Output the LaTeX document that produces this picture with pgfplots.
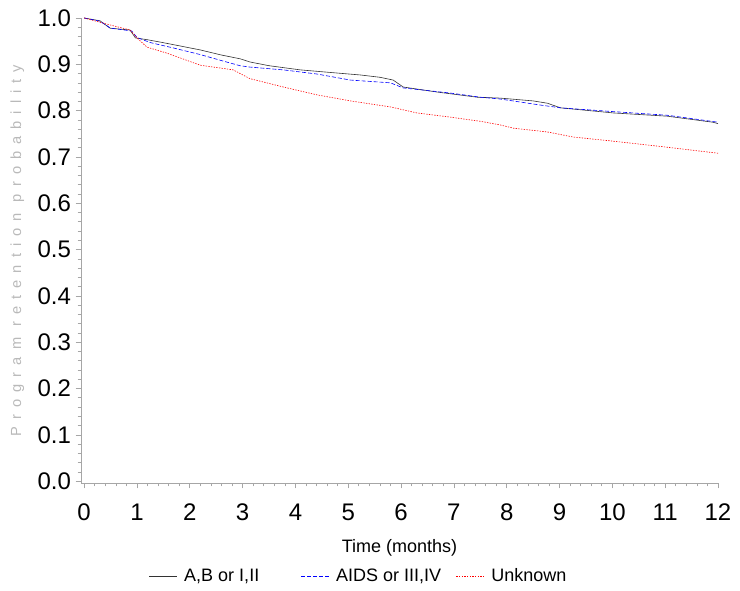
\documentclass[border=0pt]{standalone}
\usepackage{fontspec}
\setmainfont{Liberation Sans}
\newfontfamily\ylabfont[LetterSpace=48]{Liberation Sans}
\usepackage{pgfplots}
\pgfplotsset{compat=1.18}

% retention curves
\pgfplotstableread{
t p
0 1.000
0.30 0.994
0.49 0.978
0.87 0.974
0.97 0.957
1.20 0.953
1.44 0.948
1.80 0.940
2.20 0.931
2.60 0.920
2.95 0.912
3.14 0.905
3.50 0.897
4.09 0.888
4.60 0.883
5.23 0.877
5.60 0.872
5.85 0.866
6.04 0.851
6.69 0.840
7.44 0.829
7.88 0.827
8.50 0.821
8.77 0.816
9.02 0.806
10.02 0.795
11.04 0.788
11.90 0.775
12.00 0.772
}\ABtab

\pgfplotstableread{
t p
0 1.000
0.30 0.993
0.50 0.978
0.90 0.972
1.00 0.958
1.25 0.947
1.70 0.935
2.20 0.921
2.60 0.908
2.95 0.897
3.14 0.894
3.77 0.888
4.41 0.879
5.04 0.866
5.80 0.860
6.04 0.849
6.93 0.838
7.50 0.829
7.88 0.825
8.64 0.812
9.02 0.806
10.00 0.798
11.04 0.790
12.00 0.775
}\AIDStab

\pgfplotstableread{
t p
0 1.000
0.49 0.985
0.87 0.974
1.00 0.957
1.19 0.937
1.57 0.924
2.20 0.898
2.82 0.888
3.14 0.869
3.77 0.851
4.41 0.834
5.04 0.821
5.80 0.808
6.30 0.795
6.93 0.786
7.50 0.777
7.88 0.769
8.13 0.762
8.77 0.754
9.26 0.743
10.02 0.734
11.04 0.721
12.00 0.708
}\UNKtab

\begin{document}
\begin{tikzpicture}
% fix the page to the reference's 740x590 px (1px = 0.75pt)
\path[use as bounding box] (-60.75pt,-80.25pt) rectangle (494.25pt,362.25pt);
\begin{axis}[
    scale only axis,
    width=477.75pt, height=348.75pt,
    xmin=-0.06, xmax=12, ymin=-0.004, ymax=1.0,
    axis x line=bottom, axis y line=left,
    axis line style={-, gray!70, line width=0.6pt},
    xtick={0,1,...,12}, minor x tick num=4,
    ytick={0,0.1,...,1.0}, minor y tick num=4,
    tick align=outside,
    major tick length=4pt, minor tick length=2.5pt,
    tick style={gray!70, line width=0.5pt},
    /pgf/number format/assume math mode=true,
    yticklabel style={/pgf/number format/fixed, /pgf/number format/fixed zerofill,
        /pgf/number format/precision=1, font=\fontsize{18}{20}\selectfont},
    xticklabel style={font=\fontsize{18}{20}\selectfont, yshift=-8pt},
    xlabel={Time (months)},
    xlabel style={at={(axis description cs:0.5,-0.14)}, anchor=center,
        font=\fontsize{13.5}{15}\selectfont},
    ylabel={Program retention probability},
    ylabel style={at={(axis description cs:-0.1,0.5)}, anchor=center,
        font=\fontsize{11}{13}\ylabfont, text=gray!55},
    legend style={at={(axis description cs:0.1,-0.2)}, anchor=west,
        draw=none, fill=none, legend columns=3,
        font=\fontsize{13.5}{15}\selectfont,
        /tikz/every even column/.append style={column sep=0pt}},
    legend image code/.code={\draw[#1] (0pt,0pt) -- (21pt,0pt); \path (24pt,0pt);},
]
\addplot[black!80, line width=0.45pt] table[x=t, y=p] {\ABtab};
\addplot[blue, line width=0.45pt, dash pattern=on 3pt off 1.5pt] table[x=t, y=p] {\AIDStab};
\addplot[red, line width=0.45pt, dash pattern=on 1pt off 1pt] table[x=t, y=p] {\UNKtab};
\legend{\makebox[85.5pt][l]{A,B or I,II}, \makebox[88pt][l]{AIDS or III,IV}, Unknown}
\end{axis}
\end{tikzpicture}
\end{document}
